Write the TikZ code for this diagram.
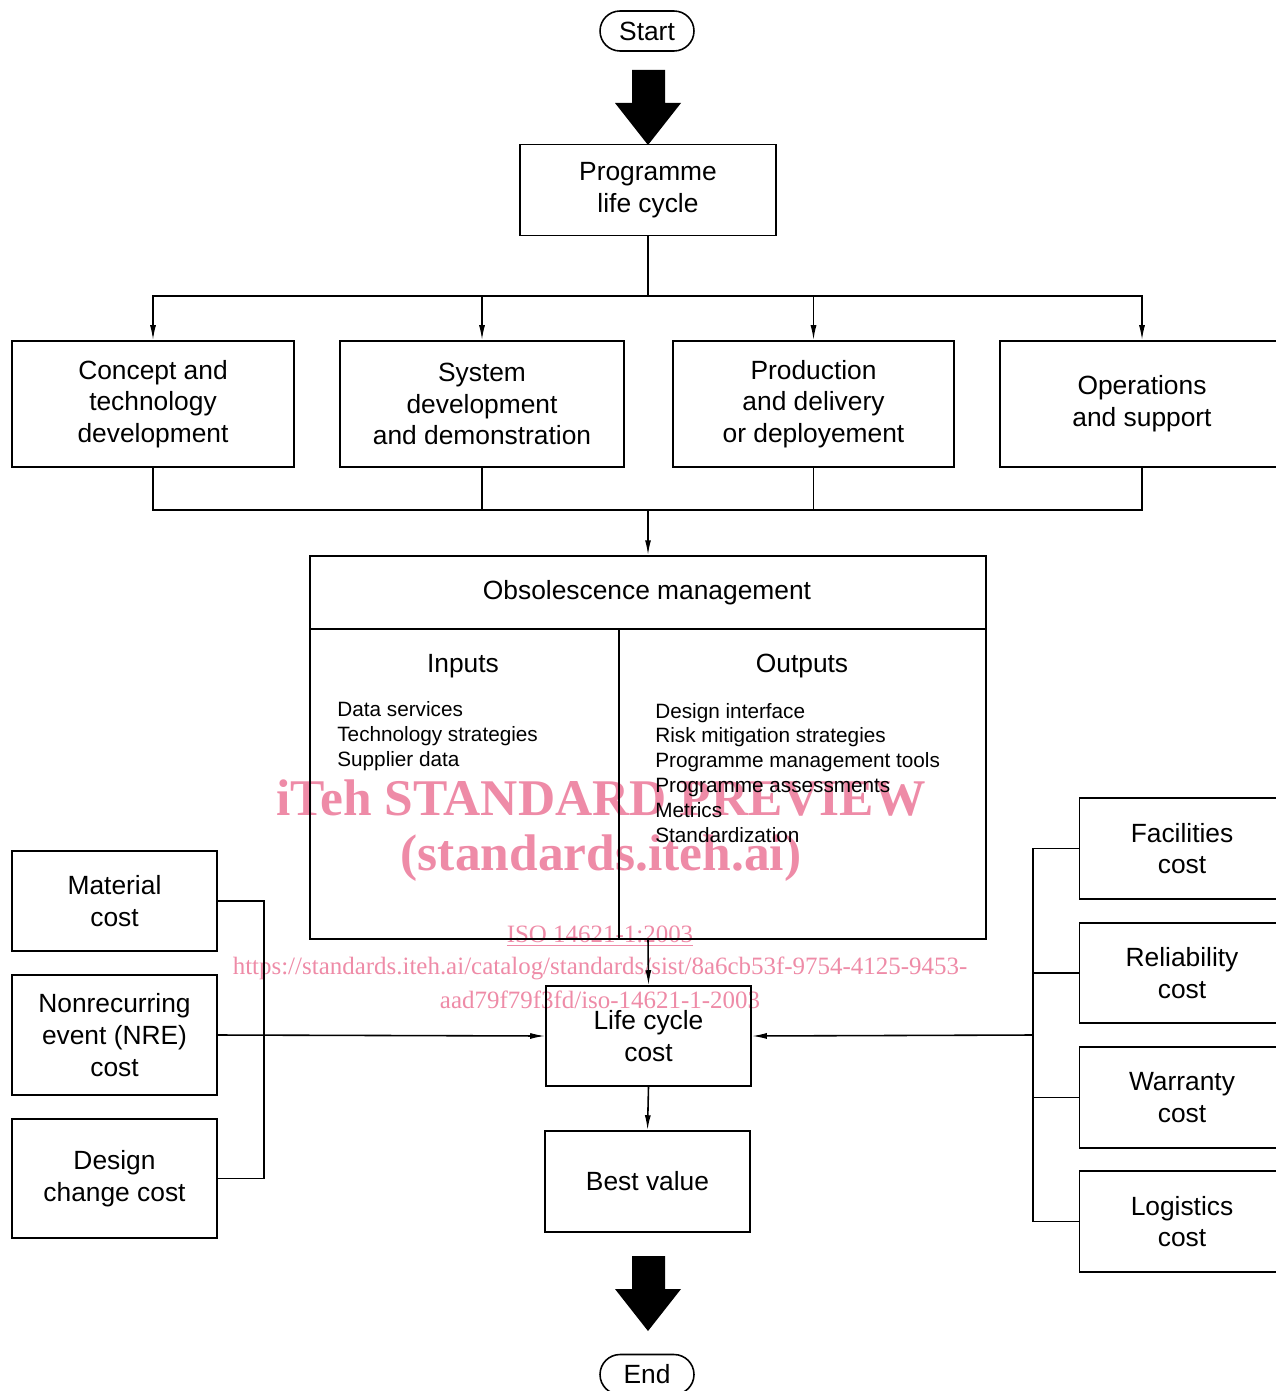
\documentclass[tikz,border=0pt]{standalone}
\usepackage{fontspec}
\setmainfont{Liberation Sans}
\newfontfamily\wmfont{Liberation Serif}
\usetikzlibrary{arrows.meta}

\definecolor{wmpink}{RGB}{238,139,167}
\newcommand{\mainfs}{\fontsize{15}{18.1}\selectfont}
\newcommand{\smallfs}{\fontsize{11.8}{14.2}\selectfont}

\tikzset{
  box/.style={draw, line width=0.9pt, align=center, inner sep=0pt, font=\mainfs},
  terminal/.style={box, rounded corners=0.4cm, minimum width=1.88cm, minimum height=0.8cm},
  costbox/.style={box, minimum width=4.1cm, minimum height=2cm},
  phase/.style={box, minimum height=2.52cm},
  link/.style={line width=0.9pt},
  flow/.style={link, -{Latex[length=3mm,width=1.2mm]}},
  bigarrow/.style={fill=black},
  watermark/.style={text=wmpink, inner sep=0pt}
}

\begin{document}
\begin{tikzpicture}[x=0.02cm, y=-0.02cm]
  \useasboundingbox (0,0) rectangle (1275,1391);

  % watermark
  \node[watermark, font=\wmfont\bfseries\fontsize{29.3}{32}\selectfont] (wm1) at (601,798) {iTeh STANDARD PREVIEW};
  \node[watermark, font=\wmfont\bfseries\fontsize{29.3}{32}\selectfont] (wm2) at (601,858) {(standards.iteh.ai)};
  \node[watermark, font=\wmfont\fontsize{14.2}{18}\selectfont] (wm3) at (600,936) {\underline{ISO 14621-1:2003}};
  \node[watermark, font=\wmfont\fontsize{14.2}{18}\selectfont] (wm4) at (600,968) {https://standards.iteh.ai/catalog/standards/sist/8a6cb53f-9754-4125-9453-};
  \node[watermark, font=\wmfont\fontsize{14.2}{18}\selectfont] (wm5) at (600,1000) {aad79f79f3fd/iso-14621-1-2003};

  \node[terminal] (start) at (647,31) {Start};
  \node[box, minimum width=5.12cm, minimum height=1.82cm] (prog) at (648,190) {Programme\\life cycle};

  \node[phase, minimum width=5.64cm] (concept) at (153,404) {Concept and\\technology\\development};
  \node[phase, minimum width=5.68cm] (system) at (482,404) {System\\development\\and demonstration};
  \node[phase, minimum width=5.62cm] (prod) at (813.5,404) {Production\\and delivery\\or deployement};
  \node[phase, minimum width=5.68cm] (ops) at (1142,404) {Operations\\and support};

  \node[box, minimum width=13.52cm, minimum height=7.66cm] (obs) at (648,747.5) {};
  \node[font=\mainfs] (obstitle) at (647,593) {Obsolescence management};
  \node[font=\mainfs] (inputs) at (463,666) {Inputs};
  \node[font=\mainfs] (outputs) at (802,666) {Outputs};
  \node[font=\smallfs, align=left, anchor=west, inner sep=0pt] (inlist) at (337,736)
    {Data services\\Technology strategies\\Supplier data};
  \node[font=\smallfs, align=left, anchor=west, inner sep=0pt] (outlist) at (655,773)
    {Design interface\\Risk mitigation strategies\\Programme management tools\\Programme assessments\\Metrics\\Standardization};
  \draw[link] (310,629) -- (986,629);
  \draw[link] (619,629) -- (619,939);

  \node[costbox, minimum width=4.1cm] (lcc) at (648.5,1036) {Life cycle\\cost};
  \node[costbox, minimum height=2.02cm] (best) at (647.5,1181.5) {Best value};
  \node[terminal] (end) at (647,1374.5) {End};

  \node[costbox] (mat) at (114.5,901) {Material\\cost};
  \node[costbox, minimum height=2.4cm] (nre) at (114.5,1035) {Nonrecurring\\event (NRE)\\cost};
  \node[costbox, minimum height=2.38cm] (des) at (114.5,1178.5) {Design\\change cost};

  \node[costbox, minimum height=2.02cm] (fac) at (1182,848.5) {Facilities\\cost};
  \node[costbox] (rel) at (1182,973) {Reliability\\cost};
  \node[costbox, minimum height=2.02cm] (war) at (1182,1097.5) {Warranty\\cost};
  \node[costbox, minimum height=2.02cm] (log) at (1182,1221.5) {Logistics\\cost};

  \coordinate (split) at (648,296);
  \coordinate (join) at (648,510);
  \coordinate (lbr) at (264,1035);
  \coordinate (rbr) at (1033,1035);

  % big arrows
  \fill[bigarrow] (632,70) -- (665,70) -- (665,103) -- (681,103) -- (648,145) -- (615,103) -- (632,103) -- cycle;
  \fill[bigarrow] (632,1256) -- (665,1256) -- (665,1289) -- (681,1289) -- (648,1331) -- (615,1289) -- (632,1289) -- cycle;

  \draw[link] (prog.south) -- (split);
  \draw[flow] (split) -| (concept.north);
  \draw[flow] (split) -| (system.north);
  \draw[flow] (split) -| (prod.north);
  \draw[flow] (split) -| (ops.north);

  \draw[link] (concept.south) |- (join);
  \draw[link] (system.south) |- (join);
  \draw[link] (prod.south) |- (join);
  \draw[link] (ops.south) |- (join);
  \draw[flow] (join) -- (obs.north);

  \draw[flow] (obs.south) -- (lcc.north);
  \draw[flow] (lcc.south) -- (best.north);

  \draw[link] (mat.east) -| (lbr);
  \draw[link] (des.east) -| (lbr);
  \draw[flow] (nre.east) -- (lcc.west);

  \draw[link] (fac.west) -| (rbr);
  \draw[link] (log.west) -| (rbr);
  \draw[link] (rel.west) -- (rel.west -| rbr);
  \draw[link] (war.west) -- (war.west -| rbr);
  \draw[flow] (rbr) -- (lcc.east);
\end{tikzpicture}
\end{document}
